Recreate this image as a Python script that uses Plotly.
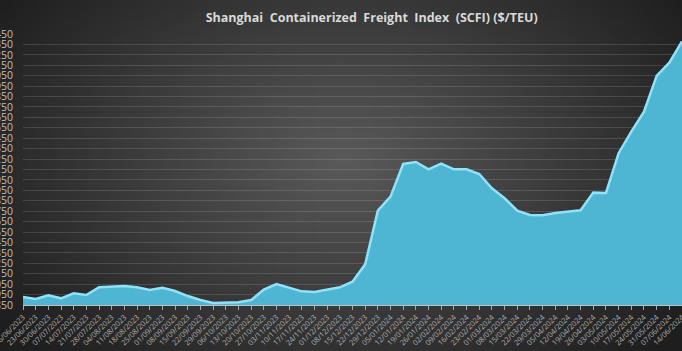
import plotly.graph_objects as go
import numpy as np
import zlib, struct, base64

dates = ["16/06/2023", "23/06/2023", "30/06/2023", "07/07/2023", "14/07/2023", "21/07/2023",
         "28/07/2023", "04/08/2023", "11/08/2023", "18/08/2023", "25/08/2023", "01/09/2023",
         "08/09/2023", "15/09/2023", "22/09/2023", "29/09/2023", "06/10/2023", "13/10/2023",
         "20/10/2023", "27/10/2023", "03/11/2023", "10/11/2023", "17/11/2023", "24/11/2023",
         "01/12/2023", "08/12/2023", "15/12/2023", "22/12/2023", "29/12/2023", "05/01/2024",
         "12/01/2024", "19/01/2024", "26/01/2024", "02/02/2024", "09/02/2024", "16/02/2024",
         "23/02/2024", "01/03/2024", "08/03/2024", "15/03/2024", "22/03/2024", "29/03/2024",
         "05/04/2024", "12/04/2024", "19/04/2024", "26/04/2024", "03/05/2024", "10/05/2024",
         "17/05/2024", "24/05/2024", "31/05/2024", "07/06/2024", "14/06/2024"]

scfi = [927, 908, 943, 914, 962, 946,
        1020, 1026, 1032, 1020, 994, 1016,
        984, 936, 898, 869, 876, 876,
        898, 997, 1051, 1016, 981, 975,
        994, 1020, 1074, 1240, 1755, 1889,
        2203, 2222, 2152, 2206, 2152, 2152,
        2107, 1970, 1874, 1755, 1714, 1711,
        1733, 1745, 1759, 1928, 1925, 2306,
        2513, 2705, 3048, 3175, 3379]

y_min, y_max, y_step = 850, 3450, 100

W, H = 682, 351
ML, MR, MT, MB = 23, 0, 34, 46


def gradient_png(w, h):
    yy, xx = np.mgrid[0:h, 0:w].astype(float)
    cx, cy = 0.5 * w, 0.45 * h
    d = np.sqrt(((xx - cx) / (0.62 * w)) ** 2 + ((yy - cy) / (0.8 * h)) ** 2)
    d = np.clip(d, 0, 1)
    inner = np.array([90, 90, 90], float)
    outer = np.array([30, 30, 30], float)
    img = (inner + (outer - inner) * d[..., None]).astype(np.uint8)
    raw = b"".join(b"\x00" + img[r].tobytes() for r in range(h))

    def chunk(tag, data):
        c = struct.pack(">I", len(data)) + tag + data
        return c + struct.pack(">I", zlib.crc32(tag + data) & 0xffffffff)

    png = b"\x89PNG\r\n\x1a\n"
    png += chunk(b"IHDR", struct.pack(">IIBBBBB", w, h, 8, 2, 0, 0, 0))
    png += chunk(b"IDAT", zlib.compress(raw, 9))
    png += chunk(b"IEND", b"")
    return "data:image/png;base64," + base64.b64encode(png).decode()


pw = W - ML - MR
ph = H - MT - MB

fig = go.Figure()
fig.add_trace(go.Scatter(
    x=dates, y=scfi, mode="lines", fill="tozeroy",
    fillcolor="#4eb6d3",
    line=dict(color="#8fe2f8", width=2.5, shape="linear"),
    hoverinfo="skip",
))

fig.update_layout(
    width=W, height=H,
    margin=dict(l=ML, r=MR, t=MT, b=MB),
    paper_bgcolor="#333333",
    plot_bgcolor="rgba(0,0,0,0)",
    showlegend=False,
    title=dict(
        text="<b>Shanghai  Containerized  Freight  Index  (SCFI) ($/TEU)</b>",
        font=dict(family="Open Sans", size=12.5, color="#d9d9d9"),
        x=0.545, xref="container", xanchor="center",
        y=1 - 18 / H, yref="container", yanchor="middle",
    ),
    images=[dict(
        source=gradient_png(136, 70),
        xref="paper", yref="paper",
        x=-ML / pw, y=1 + MT / ph,
        sizex=W / pw, sizey=H / ph,
        xanchor="left", yanchor="top",
        sizing="stretch", layer="below",
    )],
    xaxis=dict(
        type="category",
        range=[0, len(dates) - 1],
        tickangle=-45,
        tickfont=dict(family="Open Sans", size=7.5, color="#b0b0b0"),
        ticks="outside", ticklen=4, tickcolor="#a6a6a6",
        showline=True, linecolor="#bfbfbf", linewidth=1,
        showgrid=False, zeroline=False,
    ),
    yaxis=dict(
        range=[y_min, y_max],
        tick0=y_min, dtick=y_step,
        tickfont=dict(family="Open Sans", size=10.5, color="#bfbfbf"),
        showgrid=True, gridcolor="rgba(255,255,255,0.13)", gridwidth=1,
        zeroline=False, showline=False, ticks="",
        ticklabelstandoff=9,
        automargin=False,
    ),
)
fig.update_xaxes(automargin=False)

fig.write_html("out.html")
